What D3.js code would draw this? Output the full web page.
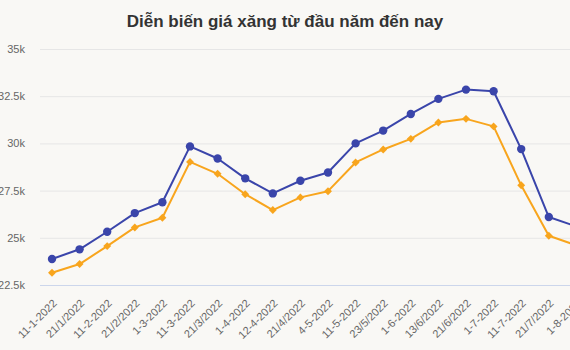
<!DOCTYPE html>
<html>
<head>
<meta charset="utf-8">
<script src="https://cdn.jsdelivr.net/npm/d3@7"></script>
<style>
html,body{margin:0;padding:0;overflow:hidden;background:#f9f8f5;}
svg{display:block;font-family:"Liberation Sans",Arial,sans-serif;}
</style>
</head>
<body>
<svg id="chart" width="600" height="350"></svg>
<script>
const title = "Diễn biến giá xăng từ đầu năm đến nay";
const categories = ["11-1-2022","21/1/2022","11-2-2022","21/2/2022","1-3-2022","11-3-2022","21/3/2022","1-4-2022","12-4-2022","21/4/2022","4-5-2022","11-5-2022","23/5/2022","1-6-2022","13/6/2022","21/6/2022","1-7-2022","11-7-2022","21/7/2022","1-8-2022"];
const seriesBlue = [23880,24390,25320,26310,26880,29840,29200,28150,27350,28020,28460,30000,30680,31560,32360,32850,32760,29700,26100,25600];
const seriesOrange = [23150,23610,24560,25550,26060,29020,28390,27310,26470,27140,27470,28990,29680,30240,31110,31300,30900,27780,25110,24600];
const yTicks = [22500,25000,27500,30000,32500,35000];
const yTickLabels = ["22.5k","25k","27.5k","30k","32.5k","35k"];

const svg = d3.select("#chart");
const plotLeft = 40, plotRight = 600, plotTop = 49, plotBottom = 285;

const x = d3.scalePoint().domain(categories).range([52, 576.4]);
const y = d3.scaleLinear().domain([22500, 35000]).range([plotBottom, plotTop]);

svg.append("text")
  .attr("x", 285).attr("y", 27)
  .attr("text-anchor", "middle")
  .attr("font-size", 17).attr("font-weight", "bold")
  .attr("fill", "#333333")
  .text(title);

// gridlines
svg.append("g").selectAll("line").data(yTicks.slice(1)).join("line")
  .attr("x1", plotLeft).attr("x2", plotRight)
  .attr("y1", d => y(d) + 0.5).attr("y2", d => y(d) + 0.5)
  .attr("stroke", "#e6e6e6").attr("stroke-width", 1);

// y axis labels
const yAxis = d3.axisLeft(y).tickValues(yTicks).tickSize(0).tickPadding(0)
  .tickFormat((d, i) => yTickLabels[i]);
const gy = svg.append("g").attr("transform", "translate(25,0)").call(yAxis);
gy.select(".domain").remove();
gy.selectAll("text").attr("font-size", 11).attr("fill", "#666666")
  .attr("font-family", "Liberation Sans, Arial, sans-serif");

// x axis
const xAxis = d3.axisBottom(x).tickSize(0).tickPadding(0);
const gx = svg.append("g").attr("transform", `translate(0,${plotBottom})`).call(xAxis);
gx.select(".domain").remove();
gx.selectAll("text")
  .attr("font-size", 11).attr("fill", "#666666")
  .attr("font-family", "Liberation Sans, Arial, sans-serif")
  .attr("text-anchor", "end")
  .attr("dy", null)
  .attr("y", 0)
  .attr("transform", "translate(5,19) rotate(-45)");
svg.append("line")
  .attr("x1", plotLeft).attr("x2", plotRight)
  .attr("y1", plotBottom + 0.5).attr("y2", plotBottom + 0.5)
  .attr("stroke", "#ccd6eb").attr("stroke-width", 1);

const line = d3.line().x((d, i) => x(categories[i])).y(d => y(d));

function drawSeries(data, color, symbol, size) {
  svg.append("path").datum(data)
    .attr("d", line).attr("fill", "none")
    .attr("stroke", color).attr("stroke-width", 2)
    .attr("stroke-linejoin", "round").attr("stroke-linecap", "round");
  svg.append("g").selectAll("path").data(data).join("path")
    .attr("transform", (d, i) => `translate(${x(categories[i])},${y(d)})`)
    .attr("d", d3.symbol().type(symbol).size(size))
    .attr("fill", color);
}
drawSeries(seriesOrange, "#f8a51d", d3.symbolDiamond2, 40);
drawSeries(seriesBlue, "#3a45aa", d3.symbolCircle, 55);
</script>
</body>
</html>
